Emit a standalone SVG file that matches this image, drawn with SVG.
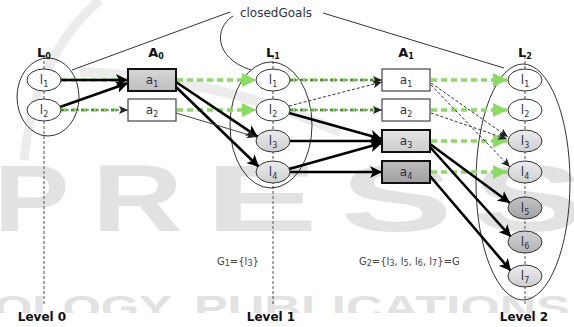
<svg xmlns="http://www.w3.org/2000/svg" width="574" height="327" viewBox="0 0 574 327">
<style>
text{font-family:"DejaVu Sans","Liberation Sans",sans-serif;fill:#2a3346}
.hdr{font-weight:bold;font-size:13px;fill:#111;text-anchor:middle}
.lvl{font-weight:bold;font-size:12px;fill:#111;text-anchor:middle}
.nl{font-size:12px;text-anchor:middle}
.sub{font-size:8px}
.note{font-size:10px;fill:#444}
.wm{font-family:"Liberation Sans",sans-serif;font-weight:bold;fill:#e2e2e2}
.outer{fill:none;stroke:#333;stroke-width:1}
.vline{stroke:#777;stroke-width:1.3;stroke-dasharray:3 2;fill:none}
.node{stroke:#333;stroke-width:1}
.box{fill:#fff;stroke:#444;stroke-width:1.2}
.boxk{stroke:#111;stroke-width:2}
.thick{stroke:#000;stroke-width:2.6;fill:none;marker-end:url(#ak)}
.green{stroke:#88dd60;stroke-width:3.5;stroke-dasharray:6 4;fill:none}
.greena{stroke:#88dd60;stroke-width:3.5;stroke-dasharray:6 4;fill:none;marker-end:url(#ag)}
.thind{stroke:#333;stroke-width:1;stroke-dasharray:3 2;fill:none;marker-end:url(#as)}
.thin{stroke:#444;stroke-width:1;fill:none;marker-end:url(#as)}
.cg{stroke:#333;stroke-width:1;fill:none}
</style>
<defs>
<marker id="ak" markerUnits="userSpaceOnUse" markerWidth="14" markerHeight="12" refX="12" refY="6" orient="auto"><path d="M0,0 L12,6 L0,12 L3,6 z" fill="#000"/></marker>
<marker id="ag" markerUnits="userSpaceOnUse" markerWidth="16" markerHeight="14" refX="14" refY="7" orient="auto"><path d="M0,0 L14,7 L0,14 z" fill="#88dd60"/></marker>
<marker id="as" markerUnits="userSpaceOnUse" markerWidth="10" markerHeight="8" refX="9" refY="4" orient="auto"><path d="M0,0 L9,4 L0,8 L2,4 z" fill="#222"/></marker>
<linearGradient id="g1" x1="0" y1="0" x2="0" y2="1"><stop offset="0" stop-color="#ececec"/><stop offset="1" stop-color="#cfcfcf"/></linearGradient>
<linearGradient id="g2" x1="0" y1="0" x2="0" y2="1"><stop offset="0" stop-color="#c4c4c4"/><stop offset="1" stop-color="#a2a2a2"/></linearGradient>
<linearGradient id="g3" x1="0" y1="0" x2="0" y2="1"><stop offset="0" stop-color="#d2d2d2"/><stop offset="1" stop-color="#b2b2b2"/></linearGradient>
<linearGradient id="gb1" x1="0" y1="0" x2="0" y2="1"><stop offset="0" stop-color="#d6d6d6"/><stop offset="1" stop-color="#bdbdbd"/></linearGradient>
<linearGradient id="gb3" x1="0" y1="0" x2="0" y2="1"><stop offset="0" stop-color="#e4e4e4"/><stop offset="1" stop-color="#cdcdcd"/></linearGradient>
<linearGradient id="gb4" x1="0" y1="0" x2="0" y2="1"><stop offset="0" stop-color="#bcbcbc"/><stop offset="1" stop-color="#a0a0a0"/></linearGradient>
<clipPath id="wmclip"><rect x="0" y="0" width="574" height="313"/></clipPath>
</defs>
<rect width="574" height="327" fill="#fff"/>

<g id="watermark">
<path d="M100,0 Q35,55 24,160" stroke="#ececec" stroke-width="9" fill="none"/>
<path d="M80,72 Q220,78 340,132" stroke="#ececec" stroke-width="10" fill="none"/>
<text class="wm" font-size="94" transform="translate(-6,231) scale(1.2,1)">P</text>
<text class="wm" font-size="94" transform="translate(92,231) scale(1.34,1)">R</text>
<text class="wm" font-size="94" transform="translate(205,231) scale(1.8,1)">E</text>
<text class="wm" font-size="94" transform="translate(340,231) scale(1.8,1)">S</text>
<text class="wm" font-size="94" transform="translate(472,231) scale(1.8,1)">S</text>
<g clip-path="url(#wmclip)">
<text class="wm" font-size="34" transform="translate(-6,319) scale(1.45,1)">OLOGY</text>
<text class="wm" font-size="34" transform="translate(194,319) scale(1.49,1)">PUBLICATIONS</text>
</g>
</g>

<g id="levels">
<line class="vline" x1="44" y1="56" x2="44" y2="306"/>
<line class="vline" x1="273" y1="56" x2="273" y2="306"/>
<line class="vline" x1="525" y1="56" x2="525" y2="306"/>
<text class="lvl" x="42" y="321">Level 0</text>
<text class="lvl" x="271" y="321">Level 1</text>
<text class="lvl" x="524" y="321">Level 2</text>
</g>

<g id="closedGoals">
<text x="276" y="17" font-size="12" text-anchor="middle" fill="#333">closedGoals</text>
<path class="cg" d="M230,12 L72,70"/>
<path class="cg" d="M323,13 L504,68"/>
<path class="cg" d="M233,16 C214,28 214,58 251,70"/>
</g>

<g id="L0">
<ellipse class="outer" cx="48" cy="97" rx="31" ry="39"/>
<text class="hdr" x="44" y="57">L<tspan class="sub" font-size="9" dy="2">0</tspan></text>
</g>
<g id="L1">
<ellipse class="outer" cx="271" cy="125" rx="41" ry="63"/>
<text class="hdr" x="273" y="57">L<tspan class="sub" font-size="9" dy="2">1</tspan></text>
</g>
<g id="L2">
<ellipse class="outer" cx="523" cy="182" rx="47" ry="118"/>
<text class="hdr" x="525" y="57">L<tspan class="sub" font-size="9" dy="2">2</tspan></text>
</g>
<g id="A0"><text class="hdr" x="156" y="57">A<tspan class="sub" font-size="9" dy="2">0</tspan></text></g>
<g id="A1"><text class="hdr" x="406" y="57">A<tspan class="sub" font-size="9" dy="2">1</tspan></text></g>

<g id="connectors">
<path class="green" d="M61,80 L122,80"/>
<path class="thick" d="M61,80 L128,80"/>
<path class="thick" d="M60,107 L128,83"/>
<path class="green" d="M61,110 L120,110"/>
<path class="thind" d="M61,110 L128,110"/>
<path class="greena" d="M177,80 L256,80"/>
<path class="greena" d="M177,110 L256,110"/>
<path class="thick" d="M176,82 L258,137"/>
<path class="thick" d="M175,86 L259,167"/>
<path class="thin" d="M176,113 L256,137"/>
<path class="green" d="M290,80 L375,80"/>
<path class="thind" d="M290,80 L382,80"/>
<path class="thind" d="M289,106 L382,82"/>
<path class="green" d="M290,110 L375,110"/>
<path class="thind" d="M290,110 L382,110"/>
<path class="thick" d="M289,113 L382,139"/>
<path class="thick" d="M290,141 L382,141"/>
<path class="thick" d="M289,169 L382,143"/>
<path class="thick" d="M290,172 L382,172"/>
<path class="greena" d="M431,80 L507,80"/>
<path class="greena" d="M431,110 L507,110"/>
<path class="greena" d="M431,141 L507,141"/>
<path class="greena" d="M431,172 L507,172"/>
<path class="thind" d="M431,83 L508,137"/>
<path class="thind" d="M431,85 L510,167"/>
<path class="thind" d="M431,113 L507,139"/>
<path class="thick" d="M430,144 L510,203"/>
<path class="thick" d="M430,147 L511,237"/>
<path class="thick" d="M430,176 L511,271"/>
</g>

<g id="L0_l1"><ellipse class="node" cx="44" cy="80" rx="17" ry="11" fill="#fff"/><text class="nl" x="44" y="84">l<tspan class="sub" dy="3">1</tspan></text></g>
<g id="L0_l2"><ellipse class="node" cx="44" cy="110" rx="17" ry="11" fill="#fff"/><text class="nl" x="44" y="114">l<tspan class="sub" dy="3">2</tspan></text></g>

<g id="A0_a1"><rect class="boxk" x="128" y="69" width="48" height="22" fill="url(#gb1)"/><text class="nl" x="152" y="84">a<tspan class="sub" dy="3">1</tspan></text></g>
<g id="A0_a2"><rect class="box" x="128" y="99" width="48" height="22"/><text class="nl" x="152" y="114">a<tspan class="sub" dy="3">2</tspan></text></g>

<g id="L1_l1"><ellipse class="node" cx="273" cy="80" rx="17" ry="11" fill="#fff"/><text class="nl" x="273" y="84">l<tspan class="sub" dy="3">1</tspan></text></g>
<g id="L1_l2"><ellipse class="node" cx="273" cy="110" rx="17" ry="11" fill="#fff"/><text class="nl" x="273" y="114">l<tspan class="sub" dy="3">2</tspan></text></g>
<g id="L1_l3"><ellipse class="node" cx="273" cy="141" rx="17" ry="11" fill="url(#g1)"/><text class="nl" x="273" y="145">l<tspan class="sub" dy="3">3</tspan></text></g>
<g id="L1_l4"><ellipse class="node" cx="273" cy="172" rx="17" ry="11" fill="url(#g1)"/><text class="nl" x="273" y="176">l<tspan class="sub" dy="3">4</tspan></text></g>

<g id="A1_a1"><rect class="box" x="382" y="69" width="48" height="22"/><text class="nl" x="406" y="84">a<tspan class="sub" dy="3">1</tspan></text></g>
<g id="A1_a2"><rect class="box" x="382" y="99" width="48" height="22"/><text class="nl" x="406" y="114">a<tspan class="sub" dy="3">2</tspan></text></g>
<g id="A1_a3"><rect class="boxk" x="382" y="130" width="48" height="22" fill="url(#gb3)"/><text class="nl" x="406" y="145">a<tspan class="sub" dy="3">3</tspan></text></g>
<g id="A1_a4"><rect class="boxk" x="382" y="161" width="48" height="22" fill="url(#gb4)"/><text class="nl" x="406" y="176">a<tspan class="sub" dy="3">4</tspan></text></g>

<g id="L2_l1"><ellipse class="node" cx="525" cy="80" rx="17" ry="11" fill="#fff"/><text class="nl" x="525" y="84">l<tspan class="sub" dy="3">1</tspan></text></g>
<g id="L2_l2"><ellipse class="node" cx="525" cy="110" rx="17" ry="11" fill="#fff"/><text class="nl" x="525" y="114">l<tspan class="sub" dy="3">2</tspan></text></g>
<g id="L2_l3"><ellipse class="node" cx="525" cy="141" rx="17" ry="11" fill="url(#g1)"/><text class="nl" x="525" y="145">l<tspan class="sub" dy="3">3</tspan></text></g>
<g id="L2_l4"><ellipse class="node" cx="525" cy="172" rx="17" ry="11" fill="url(#g1)"/><text class="nl" x="525" y="176">l<tspan class="sub" dy="3">4</tspan></text></g>
<g id="L2_l5"><ellipse class="node" cx="525" cy="208" rx="17" ry="11" fill="url(#g2)"/><text class="nl" x="525" y="212">l<tspan class="sub" dy="3">5</tspan></text></g>
<g id="L2_l6"><ellipse class="node" cx="525" cy="242" rx="17" ry="11" fill="url(#g3)"/><text class="nl" x="525" y="246">l<tspan class="sub" dy="3">6</tspan></text></g>
<g id="L2_l7"><ellipse class="node" cx="525" cy="276" rx="17" ry="11" fill="url(#g1)"/><text class="nl" x="525" y="280">l<tspan class="sub" dy="3">7</tspan></text></g>

<g id="goals">
<text class="note" x="217" y="265">G<tspan font-size="8" dy="1">1</tspan><tspan dy="-1">={l</tspan><tspan font-size="8" dy="1">3</tspan><tspan dy="-1">}</tspan></text>
<text class="note" x="359" y="265">G<tspan font-size="8" dy="1">2</tspan><tspan dy="-1">={l</tspan><tspan font-size="8" dy="1">3</tspan><tspan dy="-1">, l</tspan><tspan font-size="8" dy="1">5</tspan><tspan dy="-1">,  l</tspan><tspan font-size="8" dy="1">6</tspan><tspan dy="-1">, l</tspan><tspan font-size="8" dy="1">7</tspan><tspan dy="-1">}=G</tspan></text>
</g>
</svg>
